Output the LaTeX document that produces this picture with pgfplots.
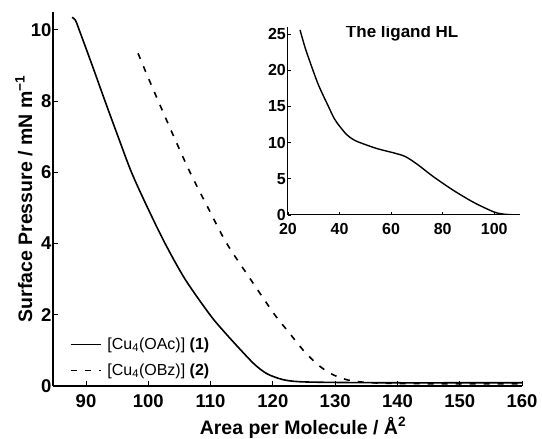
\documentclass[border=0pt]{standalone}
\usepackage{fontspec}
\setmainfont{Liberation Sans}
\usepackage{pgfplots}
\pgfplotsset{compat=1.18}

\begin{document}
\begin{tikzpicture}
\useasboundingbox (-53pt,-53pt) rectangle (489pt,386pt);
% main isotherms
\begin{axis}[
    at={(0pt,0pt)}, anchor=south west,
    scale only axis,
    width=469pt, height=374pt,
    xmin=84.7, xmax=160,
    ymin=0, ymax=10.5,
    axis x line*=bottom,
    axis y line*=left,
    axis line style={line width=1.2pt},
    xtick={90,100,...,160},
    ytick={0,2,...,10},
    tick align=inside,
    major tick length=5pt,
    tick style={line width=1pt, black},
    /pgf/number format/assume math mode=true,
    tick label style={font=\fontsize{18.5}{18.5}\selectfont\bfseries},
    xticklabel style={yshift=-5pt},
    yticklabel style={xshift=2pt},
    label style={font=\fontsize{19.5}{19.5}\selectfont\bfseries},
    xlabel={Area per Molecule / Å\textsuperscript{2}},
    ylabel={Surface Pressure / mN m\textsuperscript{−1}},
    xlabel style={at={(axis description cs:0.533,-0.112)}, anchor=center},
    ylabel style={at={(axis description cs:-0.062,0.5)}, anchor=center},
    legend style={at={(0,0)}, anchor=south west, xshift=14pt, yshift=5pt,
        draw=none, fill=none, font=\fontsize{16}{16}\selectfont,
        row sep=9pt},
    legend cell align=left,
    legend image code/.code={\draw[#1, line width=0.8pt] (0pt,0pt) -- (30pt,0pt); \path (34pt,0pt);},
]

\addplot[black, line width=1.6pt, smooth]
coordinates {
    (87.75, 10.35)
    (88.3, 10.27)
    (88.9, 10.0)
    (91.0, 9.0)
    (93.05, 8.0)
    (95.15, 7.0)
    (97.3, 6.0)
    (99.9, 5.0)
    (102.7, 4.0)
    (105.9, 3.0)
    (109.9, 2.0)
    (112.3, 1.5)
    (114.9, 1.0)
    (117.1, 0.6)
    (119.1, 0.34)
    (121.6, 0.18)
    (124.3, 0.12)
    (130, 0.10)
    (140, 0.09)
    (150, 0.09)
    (160, 0.09)
};
\addlegendentry{[Cu\textsubscript{4}(OAc)] \textbf{(1)}}

\addplot[black, line width=1.6pt, dash pattern=on 6pt off 8pt, smooth]
coordinates {
    (98.35, 9.34)
    (100.0, 8.65)
    (101.6, 8.0)
    (104.1, 7.0)
    (106.7, 6.0)
    (109.6, 5.0)
    (112.6, 4.0)
    (116.4, 3.0)
    (120.3, 2.0)
    (122.6, 1.5)
    (124.9, 1.0)
    (127.2, 0.6)
    (129.5, 0.33)
    (132.0, 0.17)
    (135, 0.10)
    (140, 0.07)
    (150, 0.06)
    (160, 0.06)
};
\addlegendentry{[Cu\textsubscript{4}(OBz)] \textbf{(2)}}
\end{axis}

% inset: the ligand
\begin{axis}[
    at={(235pt,171pt)}, anchor=south west,
    scale only axis,
    width=232pt, height=188pt,
    xmin=20, xmax=110,
    ymin=0, ymax=26,
    axis x line*=bottom,
    axis y line*=left,
    axis line style={line width=1pt},
    xtick={20,40,...,100},
    ytick={0,5,...,25},
    yticklabels={0\hspace{8pt},5,10,15,20,25},
    tick align=inside,
    major tick length=3pt,
    tick style={line width=0.8pt, black},
    /pgf/number format/assume math mode=true,
    tick label style={font=\fontsize{16}{16}\selectfont\bfseries, inner sep=1pt},
    xticklabel style={yshift=-7.5pt},
    yticklabel style={xshift=-1pt},
]
\addplot[black, line width=1.4pt, smooth]
coordinates {
    (24.66, 25.6)
    (26.5, 23.3)
    (28.5, 21.2)
    (31.8, 18.0)
    (35.7, 15.0)
    (38.0, 13.3)
    (40.2, 12.2)
    (42.8, 11.1)
    (45.5, 10.4)
    (48.0, 10.0)
    (54.4, 9.2)
    (60.9, 8.6)
    (65.4, 8.1)
    (70.0, 7.05)
    (76.4, 5.3)
    (84.2, 3.4)
    (92.0, 1.75)
    (99.7, 0.45)
    (103.6, 0.12)
    (109.4, 0.0)
};
\node[font=\fontsize{17}{17}\selectfont\bfseries] at (axis cs:64.3,25.1) {The ligand HL};
\end{axis}
\end{tikzpicture}
\end{document}
